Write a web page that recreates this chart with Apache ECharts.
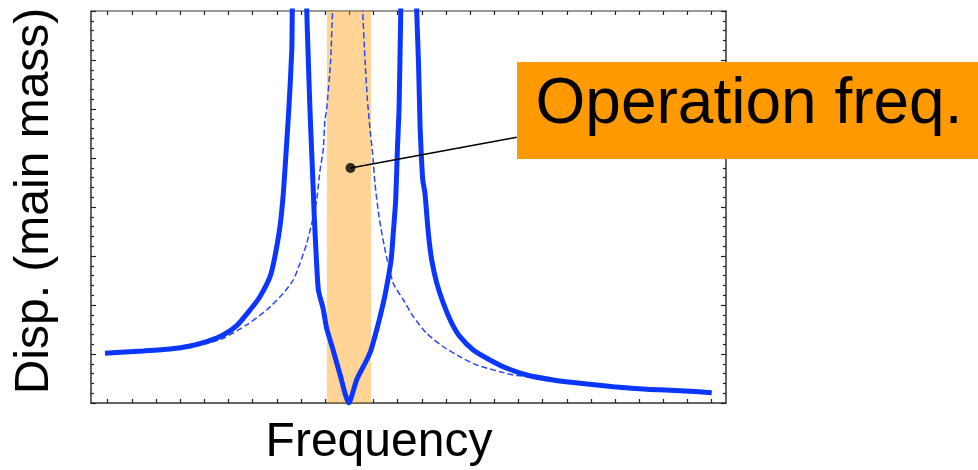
<!DOCTYPE html>
<html>
<head>
<meta charset="utf-8">
<script src="https://cdn.jsdelivr.net/npm/echarts@6/dist/echarts.min.js"></script>
<style>
  html, body { margin: 0; padding: 0; background: #fff; }
  #main { width: 978px; height: 470px; }
</style>
</head>
<body>
<div id="main"></div>
<script>
// main mass displacement vs frequency (axis units = minor tick steps)
// solid: with dynamic absorber, dashed: without absorber
var withAbsorberFreq = [-0.11, 1.47, 2.58, 3.41, 4.10, 4.78, 5.34, 5.89, 6.30, 6.72, 6.92, 7.13, 7.27, 7.39, 7.50, 7.62, 7.64, 7.94,
  8.24, 8.29, 8.37, 8.44, 8.50, 8.55, 8.64, 8.72, 8.92, 9.06, 9.34, 9.61, 9.98, 10.31, 10.72, 10.90, 11.13, 11.34, 11.52,
  11.73, 11.82, 11.92, 11.99, 12.06, 12.13, 12.46, 12.79, 12.86, 12.93, 12.97, 13.04, 13.13, 13.27, 13.41, 13.62, 13.89,
  14.24, 14.58, 15.13, 15.82, 16.52, 17.34, 18.44, 19.55, 20.93, 22.31, 23.69, 25.0];
var withAbsorberDisp = [5.07, 5.31, 5.51, 5.82, 6.26, 6.94, 7.89, 9.49, 10.85, 12.89, 14.93, 17.99, 21.40, 25.82, 30.10, 36.02, 40.0, 80,
  40.0, 36.02, 30.10, 25.82, 22.24, 19.01, 14.59, 11.53, 9.60, 7.65, 5.31, 2.96, 0, 2.40, 4.39, 5.41, 7.45, 9.49, 11.53,
  14.59, 17.35, 20.71, 25.82, 30.10, 40.0, 80, 40.0, 35.0, 28.16, 25.82, 22.76, 21.43, 17.35, 14.59, 12.24, 10.20,
  8.16, 6.77, 5.41, 4.39, 3.54, 2.86, 2.35, 2.01, 1.66, 1.40, 1.26, 1.05];

var noAbsorberFreq = [-0.11, 1.47, 2.58, 3.41, 4.10, 4.78, 5.75, 6.58, 7.27, 7.68, 7.96, 8.24, 8.51, 8.65, 8.79, 8.92, 8.99, 9.06,
  9.23, 9.31, 9.95, 10.55, 10.65, 10.75, 10.86, 10.97, 11.06, 11.23, 11.48, 11.82, 12.24, 12.65, 13.20, 13.89, 14.58,
  15.27, 16.24, 16.78, 17.34, 18.44, 19.55, 20.93, 22.31, 23.69, 25.0];
var noAbsorberDisp = [5.07, 5.26, 5.41, 5.66, 6.07, 6.60, 7.96, 9.49, 11.19, 12.55, 14.26, 16.30, 19.01, 20.71, 23.78, 25.82, 28.88, 29.90,
  35.0, 40.0, 60, 40.0, 35.0, 30.92, 27.86, 25.31, 22.45, 19.01, 15.61, 12.21, 10.51, 8.81, 7.11, 5.74, 4.72,
  3.88, 3.19, 2.86, 2.70, 2.30, 1.99, 1.66, 1.40, 1.26, 1.05];

var xTickValues = [0, 1, 2, 3, 4, 5, 6, 7, 8, 9, 10, 11, 12, 13, 14, 15, 16, 17, 18, 19, 20, 21, 22, 23, 24, 25];
var operationBand = [9.07, 10.9];
var annotationPoint = [10.05, 23.98];
var annotationLineEnd = [16.93, 27.11];

function pairs(xs, ys) {
  return xs.map(function (x, i) { return [x, ys[i]]; });
}

var FONT = "'Liberation Sans', Arial, sans-serif";
var blue = '#0a36ff';
var tickStyle = { color: '#222', width: 1.2 };

function frameAxis(color) {
  return { show: true, onZero: false, lineStyle: { color: color || '#333', width: 1.5 } };
}

var myChart = echarts.init(document.getElementById('main'));
var option = {
  animation: false,
  backgroundColor: '#fff',
  grid: { left: 91, right: 252, top: 11, bottom: 67 },
  xAxis: [
    {
      type: 'value', min: -0.69, max: 25.59, position: 'bottom',
      axisLine: frameAxis(),
      axisTick: { show: true, inside: true, length: 4, customValues: xTickValues, lineStyle: tickStyle },
      axisLabel: { show: false },
      splitLine: { show: false }
    },
    {
      type: 'value', min: -0.69, max: 25.59, position: 'top',
      axisLine: frameAxis('#777'),
      axisTick: { show: true, inside: true, length: 4, customValues: xTickValues, lineStyle: tickStyle },
      axisLabel: { show: false },
      splitLine: { show: false }
    }
  ],
  yAxis: [
    {
      type: 'value', min: 0, max: 40, interval: 5, position: 'left',
      axisLine: frameAxis(),
      axisTick: { show: true, inside: true, length: 5, lineStyle: tickStyle },
      minorTick: { show: true, splitNumber: 5, length: 3, lineStyle: tickStyle },
      axisLabel: { show: false },
      splitLine: { show: false }
    },
    {
      type: 'value', min: 0, max: 40, interval: 5, position: 'right',
      axisLine: frameAxis(),
      axisTick: { show: true, inside: true, length: 5, lineStyle: tickStyle },
      minorTick: { show: true, splitNumber: 5, length: 3, lineStyle: tickStyle },
      axisLabel: { show: false },
      splitLine: { show: false }
    }
  ],
  series: [
    {
      name: 'without absorber',
      type: 'line',
      data: pairs(noAbsorberFreq, noAbsorberDisp),
      symbol: 'none',
      smooth: 0.2,
      clip: true,
      z: 2,
      lineStyle: { color: '#2a46ff', width: 1.5, type: [6, 3] }
    },
    {
      name: 'with absorber',
      type: 'line',
      data: pairs(withAbsorberFreq, withAbsorberDisp),
      symbol: 'none',
      smooth: 0.2,
      clip: true,
      z: 3,
      lineStyle: { color: blue, width: 5 }
    },
    {
      name: 'operation band',
      type: 'line',
      data: [],
      z: 5,
      markArea: {
        silent: true,
        itemStyle: { color: 'rgba(255,153,0,0.42)' },
        data: [[{ xAxis: operationBand[0] }, { xAxis: operationBand[1] }]]
      }
    },
    {
      name: 'annotation',
      type: 'scatter',
      data: [annotationPoint],
      symbol: 'circle',
      symbolSize: 10,
      z: 8,
      itemStyle: { color: '#000' },
      markLine: {
        silent: true,
        symbol: 'none',
        label: { show: false },
        lineStyle: { color: '#000', width: 1.5, type: 'solid' },
        data: [[{ coord: annotationPoint }, { coord: annotationLineEnd }]]
      }
    }
  ],
  graphic: [
    {
      type: 'rect', z: 100,
      shape: { x: 517, y: 62, width: 461, height: 97 },
      style: { fill: '#ff9900' }
    },
    {
      type: 'text', z: 101, x: 749, y: 105,
      style: { text: 'Operation freq.', font: '64px ' + FONT, fill: '#000', textAlign: 'center', textVerticalAlign: 'middle' }
    },
    {
      type: 'text', z: 101, x: 379, y: 443,
      style: { text: 'Frequency', font: '48px ' + FONT, fill: '#000', textAlign: 'center', textVerticalAlign: 'middle' }
    },
    {
      type: 'text', z: 101, x: 35, y: 201, rotation: Math.PI / 2,
      style: { text: 'Disp. (main mass)', font: '48px ' + FONT, fill: '#000', textAlign: 'center', textVerticalAlign: 'middle' }
    }
  ]
};

myChart.setOption(option);
</script>
</body>
</html>
